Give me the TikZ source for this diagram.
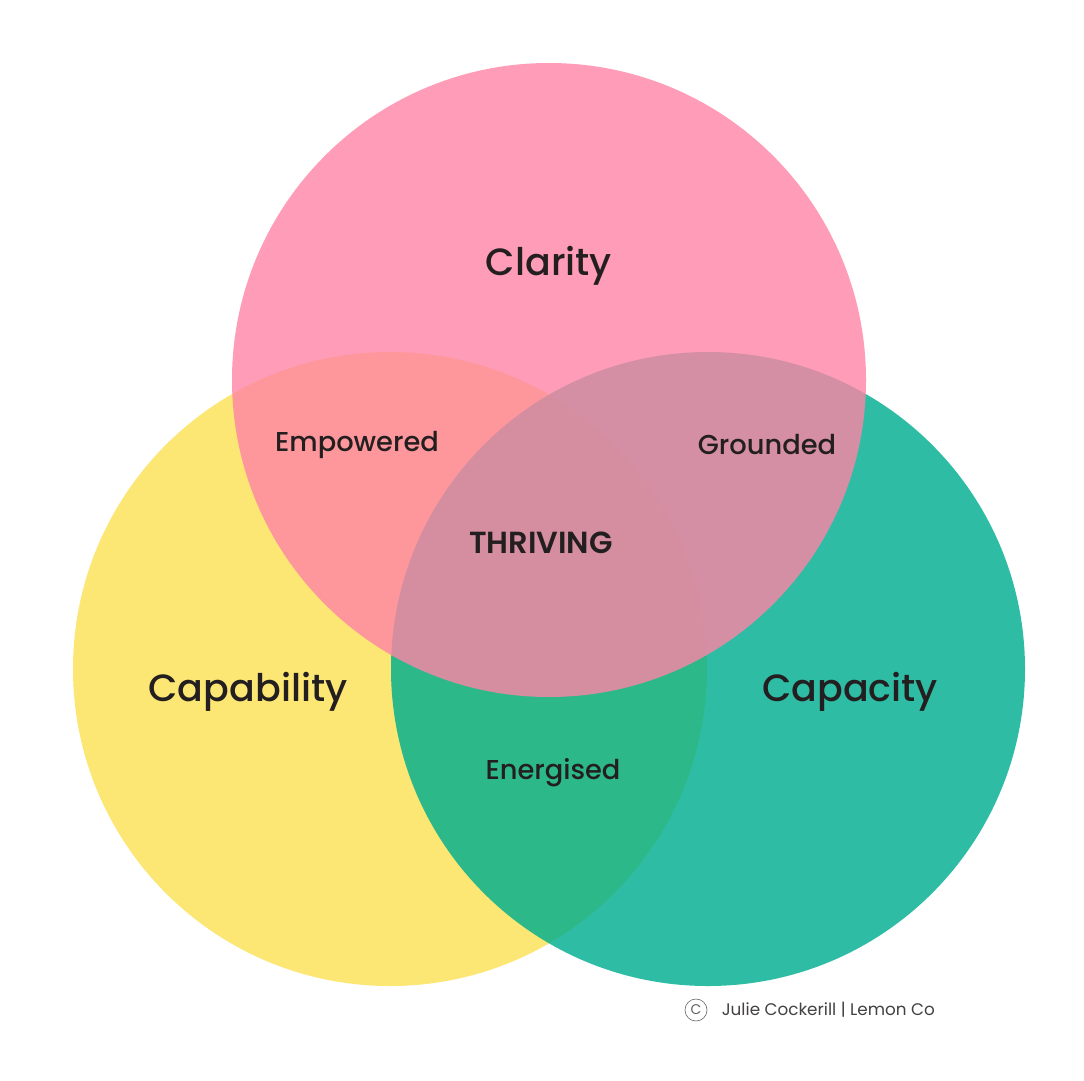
\documentclass[tikz,border=0pt]{standalone}
\usepackage{fontspec}
\setmainfont{Poppins Medium}[BoldFont={Poppins SemiBold}]
\newfontfamily\creditfont{Poppins}
\usetikzlibrary{positioning}

\definecolor{capyellow}{RGB}{252,230,116}
\definecolor{capteal}{RGB}{0,175,144}
\definecolor{clarpink}{RGB}{255,132,166}
\definecolor{inktext}{RGB}{35,31,32}

\begin{document}
\begin{tikzpicture}[
  x=1pt,y=-1pt,
  set/.style={circle,minimum size=634pt,inner sep=0pt},
  big/.style={font=\fontsize{38}{44}\selectfont,text=inktext},
  mid/.style={font=\fontsize{27.3}{30}\selectfont,text=inktext},
  core/.style={font=\fontsize{30.5}{34}\selectfont\bfseries,text=inktext},
  credit/.style={font=\creditfont\fontsize{16.8}{20}\selectfont,text=inktext!85},
]
\useasboundingbox[fill=white] (0,0) rectangle (1084,1080);

%% =====================================================
%%  THREE SETS: Capability, Capacity, Clarity
%% =====================================================

% --- Capability (bottom left) ---
\node[set,fill=capyellow] (capab) at (390,669) {};

% --- Capacity (bottom right) ---
\node[set,fill=capteal,fill opacity=0.82] (capac) at (708,669) {};

% --- Clarity (top) ---
\node[set,fill=clarpink,fill opacity=0.8] (clar) at (549,380) {};

%% =====================================================
%%  Labels
%% =====================================================
\node[big] (tclar)  at (549,266) {Clarity};
\node[big] (tcapab) at (248,692) {Capability};
\node[big] (tcapac) at (850,692) {Capacity};

\node[mid] (tempow) at (357,445) {Empowered};
\node[mid] (tgrnd)  at (767,445) {Grounded};
\node[mid] (tenerg) at (553,773) {Energised};
\node[core] (tthriv) at (541,543) {THRIVING};

%% =====================================================
%%  Credit line
%% =====================================================
\node[draw=inktext!70,line width=0.6pt,circle,minimum size=22pt,inner sep=0pt,
      font=\creditfont\fontsize{14}{14}\selectfont,text=inktext!70] (copy) at (696,1010) {C};
\node[credit,right=11pt of copy] (tcred) {Julie Cockerill | Lemon Co};

\end{tikzpicture}
\end{document}
